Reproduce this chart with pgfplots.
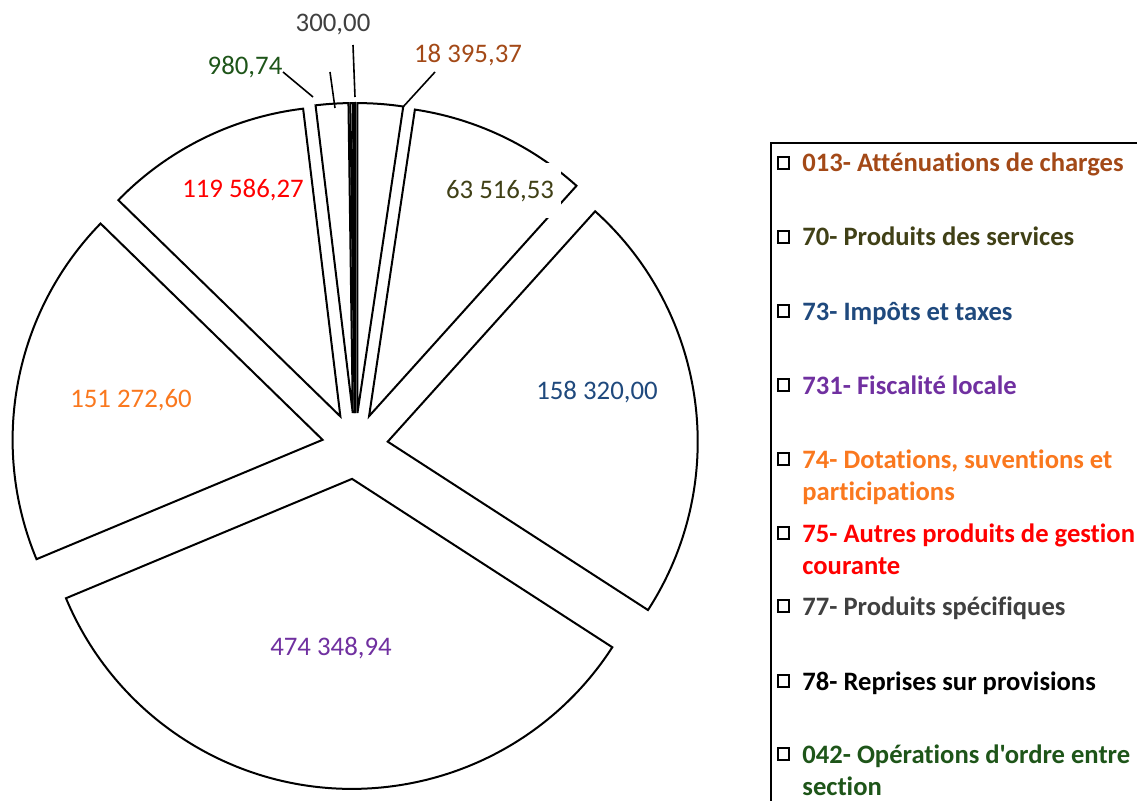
\documentclass[border=0pt]{standalone}
\usepackage{pgfplots}
\pgfplotsset{compat=1.18}
\usepackage{pgfplotstable}
\usepackage{fontspec}
\setmainfont{Carlito}[Ligatures={TeXOff,CommonOff}]

\definecolor{c013}{RGB}{163,73,23}
\definecolor{c70}{RGB}{64,64,22}
\definecolor{c73}{RGB}{31,73,125}
\definecolor{c731}{RGB}{112,48,160}
\definecolor{c74}{RGB}{250,120,30}
\definecolor{c75}{RGB}{255,0,0}
\definecolor{c77}{RGB}{64,64,64}
\definecolor{c78}{RGB}{0,0,0}
\definecolor{c042}{RGB}{30,85,25}

\newcommand\legfont{\bfseries\fontsize{13.3}{16}\selectfont}
\newcommand\labfont{\fontsize{13.4}{16}\selectfont}

% slice sizes (degrees of the drawn pie), clockwise from 12 o'clock
\pgfplotstableread{
code size
013 8.5
70 33.5
73 80.9
731 124.45
74 66.9
75 38.85
77 6.1
78 0.5
042 0.3
}\slices

\begin{document}
\begin{tikzpicture}
\def\cum{0}
\pgfplotsforeachungrouped \i in {0,...,8}{%
  \pgfplotstablegetelem{\i}{size}\of\slices
  \pgfmathsetmacro\sa{\cum}%
  \pgfmathsetmacro\cum{\cum+\pgfplotsretval}%
  \expandafter\xdef\csname sA\i\endcsname{\sa}%
  \expandafter\xdef\csname sB\i\endcsname{\cum}%
}
\begin{axis}[x=0.5pt, y=0.5pt, xmin=0, xmax=1137, ymin=0, ymax=800,
  hide axis, clip=true]
\pgfplotsinvokeforeach{0,...,8}{%
  \draw[line width=1pt, fill=white, line join=miter, shift={(axis cs:355,354)}]
    ({90-0.5*(\csname sA#1\endcsname+\csname sB#1\endcsname)}:16.5pt)
    -- ++({90-\csname sA#1\endcsname}:155pt)
    arc[start angle={90-\csname sA#1\endcsname}, end angle={90-\csname sB#1\endcsname}, radius=155pt]
    -- cycle;
}
% leader lines
\draw[line width=0.8pt] (axis cs:353,755) -- (axis cs:355,703);
\draw[line width=0.8pt] (axis cs:435,728) -- (axis cs:403,693);
\draw[line width=0.8pt] (axis cs:283,728) -- (axis cs:313,703);
\draw[line width=0.8pt] (axis cs:330,728) -- (axis cs:335,692);
% data labels
\node[font=\labfont, text=c77] at (axis cs:333,775) {300,00};
\node[font=\labfont, text=c013] at (axis cs:468,745) {18 395,37};
\node[font=\labfont, text=c042] at (axis cs:245,733) {980,74};
\node[font=\labfont, text=c70, fill=white, minimum width=60pt, minimum height=27.5pt] at (axis cs:500,609) {63 516,53};
\node[font=\labfont, text=c75] at (axis cs:243,610) {119 586,27};
\node[font=\labfont, text=c73] at (axis cs:597,408) {158 320,00};
\node[font=\labfont, text=c731] at (axis cs:331,152) {474 348,94};
\node[font=\labfont, text=c74] at (axis cs:131,400) {151 272,60};
% legend frame
\draw[line width=1pt] (axis cs:771,657) rectangle (axis cs:1160,-20);
% legend keys
\draw[line width=0.8pt] (axis cs:778,631) rectangle (axis cs:789,643);
\draw[line width=0.8pt] (axis cs:778,557) rectangle (axis cs:789,569);
\draw[line width=0.8pt] (axis cs:778,483) rectangle (axis cs:789,495);
\draw[line width=0.8pt] (axis cs:778,409) rectangle (axis cs:789,421);
\draw[line width=0.8pt] (axis cs:778,335) rectangle (axis cs:789,347);
\draw[line width=0.8pt] (axis cs:778,261) rectangle (axis cs:789,273);
\draw[line width=0.8pt] (axis cs:778,188) rectangle (axis cs:789,200);
\draw[line width=0.8pt] (axis cs:778,113) rectangle (axis cs:789,125);
\draw[line width=0.8pt] (axis cs:778,40) rectangle (axis cs:789,52);
% legend texts
\node[anchor=base west, inner sep=0pt, font=\legfont, text=c013] at (axis cs:802,628) {013- Atténuations de charges};
\node[anchor=base west, inner sep=0pt, font=\legfont, text=c70] at (axis cs:802,554) {70- Produits des services};
\node[anchor=base west, inner sep=0pt, font=\legfont, text=c73] at (axis cs:802,480) {73- Impôts et taxes};
\node[anchor=base west, inner sep=0pt, font=\legfont, text=c731] at (axis cs:802,406) {731- Fiscalité locale};
\node[anchor=base west, inner sep=0pt, font=\legfont, text=c74] at (axis cs:802,332) {74- Dotations, suventions et};
\node[anchor=base west, inner sep=0pt, font=\legfont, text=c74] at (axis cs:802,300) {participations};
\node[anchor=base west, inner sep=0pt, font=\legfont, text=c75] at (axis cs:802,258) {75- Autres produits de gestion};
\node[anchor=base west, inner sep=0pt, font=\legfont, text=c75] at (axis cs:802,226) {courante};
\node[anchor=base west, inner sep=0pt, font=\legfont, text=c77] at (axis cs:802,185) {77- Produits spécifiques};
\node[anchor=base west, inner sep=0pt, font=\legfont, text=c78] at (axis cs:802,110) {78- Reprises sur provisions};
\node[anchor=base west, inner sep=0pt, font=\legfont, text=c042] at (axis cs:802,37) {042- Opérations d'ordre entre};
\node[anchor=base west, inner sep=0pt, font=\legfont, text=c042] at (axis cs:802,5) {section};
\end{axis}
\pgfresetboundingbox
\path (current axis.south west) rectangle (current axis.north east);
\end{tikzpicture}
\end{document}
